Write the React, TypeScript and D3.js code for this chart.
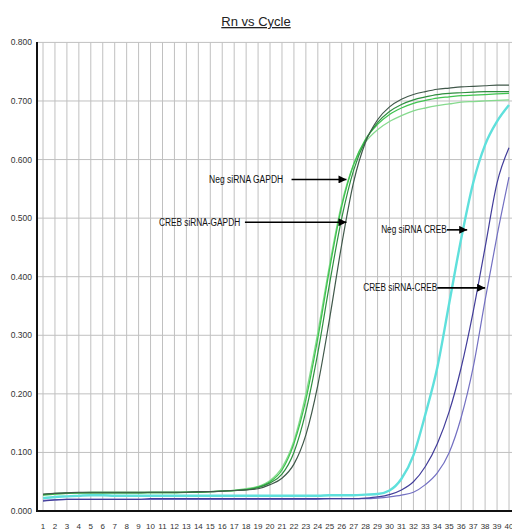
import * as d3 from 'd3';

const cycles = d3.range(1, 41);

// Rn values per cycle (1..40)
const negGapdh1 = [0.027, 0.029, 0.030, 0.031, 0.031, 0.031, 0.031, 0.031, 0.031, 0.031, 0.031, 0.031, 0.032, 0.032, 0.033, 0.034, 0.035, 0.037, 0.041, 0.050, 0.070, 0.115, 0.190, 0.295, 0.415, 0.520, 0.592, 0.635, 0.660, 0.677, 0.688, 0.696, 0.701, 0.705, 0.707, 0.709, 0.710, 0.711, 0.712, 0.713];
const negGapdh2 = [0.028, 0.029, 0.030, 0.031, 0.032, 0.032, 0.032, 0.032, 0.032, 0.032, 0.032, 0.032, 0.032, 0.033, 0.033, 0.034, 0.035, 0.038, 0.042, 0.052, 0.074, 0.120, 0.200, 0.305, 0.422, 0.525, 0.592, 0.630, 0.651, 0.665, 0.675, 0.683, 0.688, 0.692, 0.695, 0.698, 0.699, 0.700, 0.701, 0.702];
const crebGapdh1 = [0.028, 0.030, 0.031, 0.031, 0.031, 0.031, 0.031, 0.031, 0.031, 0.032, 0.032, 0.032, 0.032, 0.032, 0.033, 0.034, 0.035, 0.036, 0.040, 0.048, 0.063, 0.100, 0.170, 0.270, 0.390, 0.500, 0.582, 0.633, 0.663, 0.682, 0.694, 0.702, 0.707, 0.711, 0.713, 0.714, 0.715, 0.716, 0.716, 0.716];
const crebGapdh2 = [0.029, 0.030, 0.031, 0.032, 0.032, 0.032, 0.032, 0.032, 0.032, 0.032, 0.032, 0.032, 0.032, 0.033, 0.033, 0.034, 0.035, 0.036, 0.038, 0.045, 0.056, 0.080, 0.130, 0.215, 0.330, 0.455, 0.562, 0.630, 0.668, 0.690, 0.703, 0.711, 0.716, 0.720, 0.722, 0.724, 0.725, 0.726, 0.727, 0.727];
const negCreb = [0.022, 0.024, 0.025, 0.026, 0.027, 0.027, 0.026, 0.026, 0.026, 0.026, 0.026, 0.026, 0.026, 0.026, 0.026, 0.026, 0.026, 0.026, 0.026, 0.026, 0.026, 0.026, 0.026, 0.026, 0.027, 0.027, 0.027, 0.028, 0.029, 0.035, 0.055, 0.095, 0.165, 0.245, 0.355, 0.465, 0.560, 0.625, 0.665, 0.693];
const crebCreb1 = [0.017, 0.019, 0.020, 0.020, 0.020, 0.020, 0.020, 0.020, 0.020, 0.021, 0.021, 0.021, 0.021, 0.021, 0.021, 0.021, 0.021, 0.021, 0.021, 0.021, 0.021, 0.021, 0.021, 0.021, 0.021, 0.021, 0.021, 0.022, 0.024, 0.028, 0.036, 0.050, 0.076, 0.115, 0.170, 0.245, 0.340, 0.450, 0.560, 0.620];
const crebCreb2 = [0.018, 0.019, 0.020, 0.020, 0.020, 0.020, 0.020, 0.020, 0.020, 0.020, 0.020, 0.020, 0.020, 0.020, 0.020, 0.020, 0.020, 0.020, 0.020, 0.020, 0.020, 0.020, 0.020, 0.020, 0.021, 0.021, 0.021, 0.021, 0.022, 0.024, 0.027, 0.032, 0.045, 0.065, 0.100, 0.160, 0.245, 0.360, 0.470, 0.570];

const yTicks = [0, 0.1, 0.2, 0.3, 0.4, 0.5, 0.6, 0.7, 0.8];

const series = [
  { name: 'CREB siRNA-CREB b', values: crebCreb2, color: '#7370c2', width: 1.2 },
  { name: 'CREB siRNA-CREB a', values: crebCreb1, color: '#423d9a', width: 1.2 },
  { name: 'Neg siRNA CREB', values: negCreb, color: '#5fe0dc', width: 2.4 },
  { name: 'Neg siRNA GAPDH b', values: negGapdh2, color: '#86da8e', width: 1.3 },
  { name: 'Neg siRNA GAPDH a', values: negGapdh1, color: '#3fc44f', width: 1.3 },
  { name: 'CREB siRNA-GAPDH a', values: crebGapdh1, color: '#2f8f40', width: 1.2 },
  { name: 'CREB siRNA-GAPDH b', values: crebGapdh2, color: '#40584a', width: 1.2 },
];

// annotation: label start/end, arrow start and tip, in data space
const notes = [
  { text: 'Neg siRNA GAPDH', textStart: 14.9, textEnd: 21.1, from: 21.8, to: 26.4, value: 0.566 },
  { text: 'CREB siRNA-GAPDH', textStart: 10.7, textEnd: 17.5, from: 17.9, to: 26.4, value: 0.493 },
  { text: 'Neg siRNA CREB', textStart: 29.3, textEnd: 34.8, from: 34.8, to: 36.5, value: 0.48 },
  { text: 'CREB siRNA-CREB', textStart: 27.8, textEnd: 34.0, from: 34.0, to: 38.0, value: 0.381 },
];

export default function App() {
  const width = 512;
  const height = 530;
  const left = 37;
  const plotRight = 516;
  const top = 42.4;
  const bottom = 511;

  const x = d3.scaleLinear().domain([1, 40]).range([43, 509]);
  const y = d3.scaleLinear().domain([0, 0.8]).range([bottom, top]);

  const line = d3.line<number>()
    .x((_, i) => x(cycles[i]))
    .y(d => y(d))
    .curve(d3.curveMonotoneX);

  const font = '"Liberation Sans", Arial, sans-serif';

  return (
    <svg width={width} height={height} style={{ position: 'absolute', left: 0, top: 0, background: '#fff' }}>
      <defs>
        <marker id="head" viewBox="0 0 10 10" refX="10" refY="5" markerWidth="5" markerHeight="5" orient="auto" markerUnits="strokeWidth">
          <path d="M0,0 L10,5 L0,10 z" fill="#000" />
        </marker>
      </defs>

      <text x={256} y={26} textAnchor="middle" fontFamily={font} fontSize={13} textDecoration="underline" fill="#222">Rn vs Cycle</text>

      {/* grid */}
      {yTicks.map(t => (
        <line key={'h' + t} x1={left} x2={plotRight} y1={y(t)} y2={y(t)} stroke="#c0c0c0" strokeWidth={1} />
      ))}
      {cycles.map(c => (
        <line key={'v' + c} x1={x(c)} x2={x(c)} y1={top} y2={bottom} stroke="#c0c0c0" strokeWidth={1} />
      ))}

      {/* curves */}
      {series.map(s => (
        <path key={s.name} d={line(s.values) || ''} fill="none" stroke={s.color} strokeWidth={s.width} />
      ))}

      {/* axes */}
      <line x1={left} x2={left} y1={top - 0.5} y2={bottom + 1} stroke="#111" strokeWidth={2} />
      <line x1={left} x2={plotRight} y1={bottom} y2={bottom} stroke="#111" strokeWidth={2} />

      {yTicks.map(t => (
        <text key={'yl' + t} x={32} y={y(t) + 3} textAnchor="end" fontFamily={font} fontSize={8.5} fill="#333">
          {d3.format('.3f')(t)}
        </text>
      ))}
      {cycles.map(c => (
        <text key={'xl' + c} x={x(c)} y={529} textAnchor="middle" fontFamily={font} fontSize={8} fill="#333">
          {c}
        </text>
      ))}

      {/* annotations */}
      {notes.map(n => (
        <g key={n.text}>
          <text x={x(n.textStart)} y={y(n.value) + 3.5} fontFamily={font} fontSize={10} fill="#111"
            textLength={x(n.textEnd) - x(n.textStart)} lengthAdjust="spacingAndGlyphs">
            {n.text}
          </text>
          <line x1={x(n.from)} x2={x(n.to)} y1={y(n.value)} y2={y(n.value)} stroke="#000" strokeWidth={1.6} markerEnd="url(#head)" />
        </g>
      ))}
    </svg>
  );
}
